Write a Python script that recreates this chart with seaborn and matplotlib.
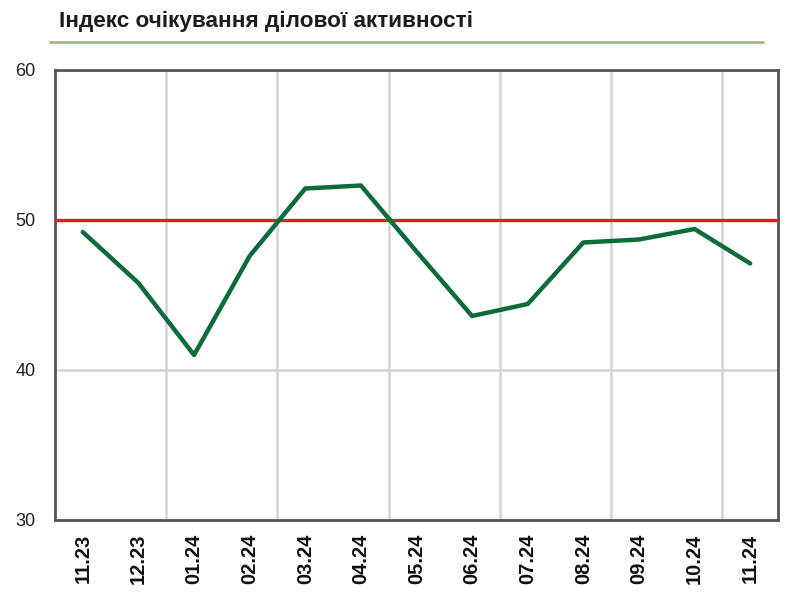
import matplotlib
matplotlib.use("Agg")
import matplotlib.pyplot as plt
from matplotlib.ticker import FixedLocator
import seaborn as sns
import pandas as pd

months = ["11.23", "12.23", "01.24", "02.24", "03.24", "04.24", "05.24",
          "06.24", "07.24", "08.24", "09.24", "10.24", "11.24"]
index_values = [49.2, 45.8, 41.0, 47.6, 52.1, 52.3, 47.9,
                43.6, 44.4, 48.5, 48.7, 49.4, 47.1]
threshold = 50
y_ticks = [30, 40, 50, 60]
title = "Індекс очікування ділової активності"

df = pd.DataFrame({"month": months, "value": index_values})

sns.set_theme(style="white")
plt.rcParams["font.family"] = ["Liberation Sans", "DejaVu Sans"]

fig = plt.figure(figsize=(8.0, 6.08), dpi=100)
ax = fig.add_axes([55 / 800, 1 - 520 / 608, 723 / 800, 450 / 608])

ax.axhline(threshold, color="#e01e1e", linewidth=2.4, zorder=3)
sns.lineplot(data=df, x="month", y="value", sort=False, ax=ax,
             color="#0d6b3a", linewidth=3.2, zorder=4)

ax.set_xlim(-0.5, len(months) - 0.5)
ax.set_ylim(30, 60)
ax.set_yticks(y_ticks)
ax.set_yticklabels([str(t) for t in y_ticks], fontsize=13, color="#222222")
ax.set_xticks(range(len(months)))
ax.set_xticklabels(months, rotation=90, fontsize=14.5, fontweight="bold",
                   color="#111111")
ax.xaxis.set_minor_locator(FixedLocator([1.5, 3.5, 5.5, 7.5, 9.5, 11.5]))
ax.grid(False)
ax.grid(axis="x", which="minor", color="#d4d4d4", linewidth=1.8)
ax.grid(axis="y", which="major", color="#d4d4d4", linewidth=1.8)
ax.tick_params(axis="y", length=0, pad=14)
ax.tick_params(axis="x", which="both", length=0, pad=10)
ax.set_xlabel("")
ax.set_ylabel("")
for s in ax.spines.values():
    s.set_visible(True)
    s.set_color("#555555")
    s.set_linewidth(2.0)

fig.text(59 / 800, 1 - 21 / 608, title, ha="left", va="center",
         fontsize=16.2, fontweight="bold", color="#1c1c1c")
fig.add_artist(plt.Line2D([50 / 800, 763 / 800], [1 - 41.5 / 608, 1 - 41.5 / 608],
                          color="#9fbc8a", linewidth=2.0))

fig.savefig("out.png", dpi=100)
